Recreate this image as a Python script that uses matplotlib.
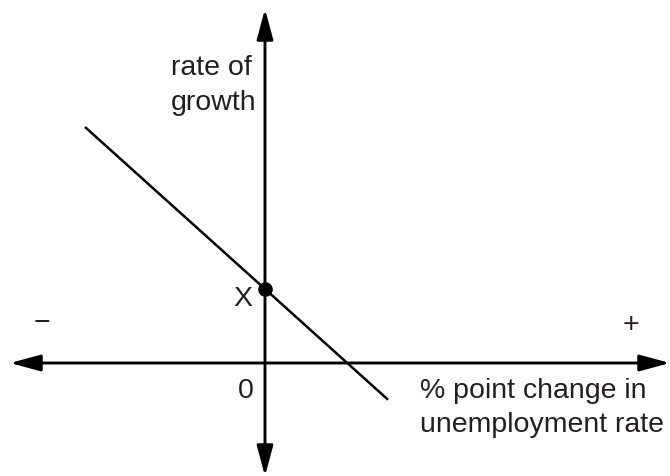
import matplotlib

matplotlib.use("Agg")
import matplotlib.pyplot as plt

plt.rcParams["font.family"] = ["Liberation Sans", "DejaVu Sans"]

# diagram units: origin where the axes cross, 1 unit ~ 10 px
line_x = [-18.0, 12.3]
line_y = [23.6, -3.67]
point_x = [0.0]
point_y = [7.4]

x_limits = (-26.5, 40.5)
y_limits = (-11.3, 36.4)

y_label_lines = ["rate of", "growth"]
x_label_lines = ["% point change in", "unemployment rate"]
point_label = "X"
origin_label = "0"

ink = "#231f20"
font_size = 20.5


def main() -> None:
    fig = plt.figure(figsize=(6.7, 4.77), dpi=100)
    ax = fig.add_axes([0, 0, 1, 1])
    ax.set_xlim(*x_limits)
    ax.set_ylim(*y_limits)
    ax.axis("off")

    arrow = dict(
        arrowstyle="<|-|>,head_length=18.5,head_width=5",
        mutation_scale=1,
        color="black",
        lw=2.1,
        shrinkA=0,
        shrinkB=0,
    )
    # the two axes, arrow at both ends
    ax.annotate("", xy=(x_limits[1], 0), xytext=(-25.5, 0),
                arrowprops=arrow, annotation_clip=False)
    ax.annotate("", xy=(0, 35.4), xytext=(0, y_limits[0]),
                arrowprops=arrow, annotation_clip=False)

    ax.plot(line_x, line_y, color="black", lw=1.8, solid_capstyle="butt")
    ax.plot(point_x, point_y, "o", color="black", markersize=9.5)

    text = dict(fontsize=font_size, color=ink)
    ax.text(-9.4, 28.9, y_label_lines[0], ha="left", va="baseline", **text)
    ax.text(-9.4, 25.4, y_label_lines[1], ha="left", va="baseline", **text)
    ax.text(15.5, -3.4, x_label_lines[0], ha="left", va="baseline", **text)
    ax.text(15.5, -6.8, x_label_lines[1], ha="left", va="baseline", **text)
    ax.text(-2.2, 5.8, point_label, ha="center", va="baseline", **text)
    ax.text(-1.95, -3.4, origin_label, ha="center", va="baseline", **text)
    ax.text(-22.3, 4.1, "\u2212", ha="center", va="center", **text)
    ax.text(36.6, 3.9, "+", ha="center", va="center", **text)

    fig.savefig("out.png", dpi=100, facecolor="white")
    plt.close(fig)


if __name__ == "__main__":
    main()
